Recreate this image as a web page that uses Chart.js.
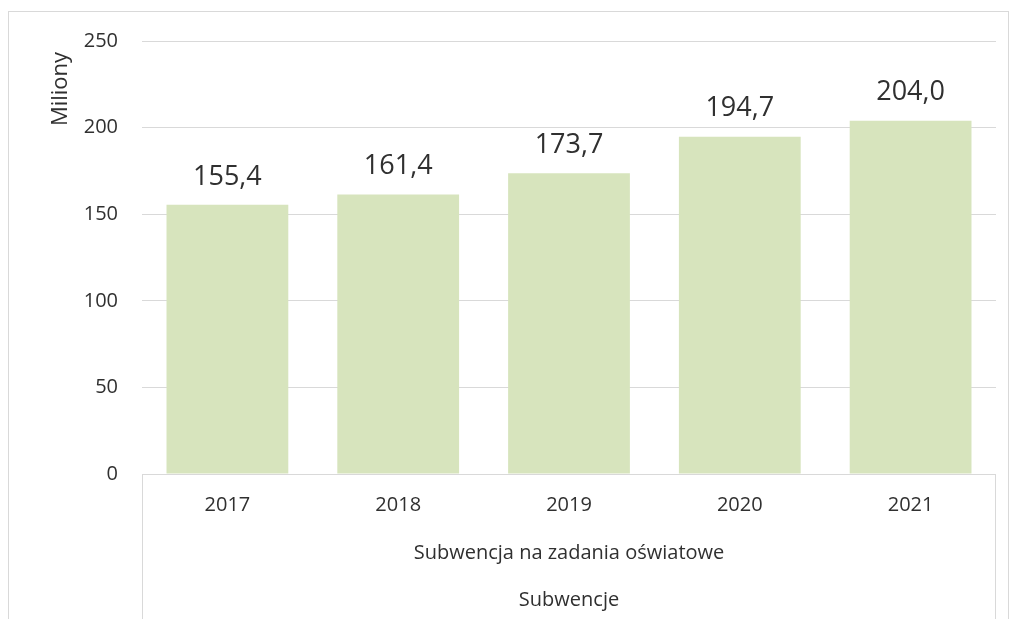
<html>
  <head>
    <meta charset="utf-8">
    <script src="https://cdn.jsdelivr.net/npm/chart.js@4/dist/chart.umd.min.js"></script>
    <style>
      body { margin: 0; background: #fff; }
    </style>
  </head>
  <body>
    <canvas id="barChart" width="1011" height="619"></canvas>
    <script>
      const years = ['2017', '2018', '2019', '2020', '2021'];
      const values = [155.4, 161.4, 173.7, 194.7, 204.0];
      const groupLabel = 'Subwencja na zadania oświatowe';
      const topGroupLabel = 'Subwencje';
      const yTitle = 'Miliony';

      const TEXT = '#303030';
      const GRID = '#d9d9d9';
      const FONT = '"Open Sans", sans-serif';

      // value labels above bars + outer frame + group labels under the axis
      const extras = {
        id: 'extras',
        beforeDraw(chart) {
          const c = chart.ctx;
          c.save();
          c.strokeStyle = GRID;
          c.lineWidth = 1;
          c.strokeRect(8.5, 11.5, 1000, 700);
          c.restore();
        },
        afterDraw(chart) {
          const c = chart.ctx;
          const x = chart.scales.x;
          const area = chart.chartArea;
          c.save();
          c.strokeStyle = GRID;
          c.lineWidth = 1;
          c.beginPath();
          c.moveTo(Math.round(x.left) + 0.5, area.bottom);
          c.lineTo(Math.round(x.left) + 0.5, chart.height);
          c.moveTo(Math.round(x.right) - 0.5, area.bottom);
          c.lineTo(Math.round(x.right) - 0.5, chart.height);
          c.stroke();

          c.fillStyle = TEXT;
          c.textAlign = 'center';
          c.textBaseline = 'middle';
          c.font = '20px ' + FONT;
          const mid = (x.left + x.right) / 2;
          c.fillText(groupLabel, mid, 553);
          c.fillText(topGroupLabel, mid, 600);

          c.font = '27px ' + FONT;
          const meta = chart.getDatasetMeta(0);
          meta.data.forEach(function(bar, i) {
            c.fillText(values[i].toFixed(1).replace('.', ','), bar.x, bar.y - 28);
          });

          c.translate(61, 89);
          c.rotate(-Math.PI / 2);
          c.font = '22px ' + FONT;
          c.fillText(yTitle, 0, 0);
          c.restore();
        }
      };

      window.onload = function() {
        const ctxBar = document.getElementById('barChart');
        window.myBar = new Chart(ctxBar, {
          type: 'bar',
          data: {
            labels: years,
            datasets: [{
              data: values,
              backgroundColor: '#d7e4bd',
              categoryPercentage: 1,
              barPercentage: 0.713
            }]
          },
          options: {
            responsive: false,
            animation: false,
            layout: { padding: { top: 41, right: 15, left: 0, bottom: 0 } },
            plugins: {
              legend: { display: false },
              tooltip: { enabled: false }
            },
            scales: {
              x: {
                grid: { display: false, drawTicks: false },
                border: { display: false },
                ticks: { color: TEXT, font: { family: FONT, size: 20 }, padding: 19 },
                afterFit(scale) { scale.height = 145; }
              },
              y: {
                min: 0,
                max: 250,
                ticks: { stepSize: 50, color: TEXT, font: { family: FONT, size: 20 }, padding: 24 },
                grid: { color: GRID, drawTicks: false },
                border: { display: false },
                afterFit(scale) { scale.width = 142; }
              }
            }
          },
          plugins: [extras]
        });
      };
    </script>
  </body>
</html>
